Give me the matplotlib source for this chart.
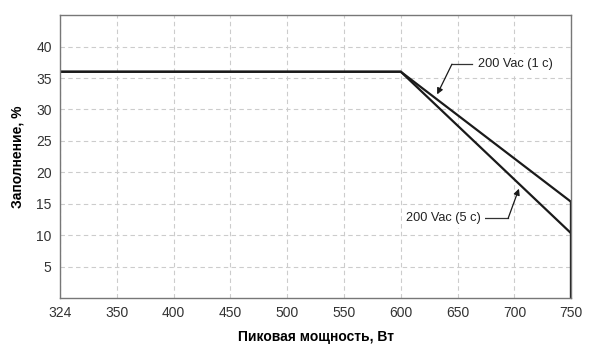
import numpy as np
import matplotlib.pyplot as plt

plt.rcParams['font.family'] = ['Liberation Sans', 'DejaVu Sans']

# axis ticks (equally spaced on the chart, not linear in value)
x_ticks = [324, 350, 400, 450, 500, 550, 600, 650, 700, 750]
y_ticks = [5, 10, 15, 20, 25, 30, 35, 40]

# curves: peak power (W) vs duty (%)
x_1s = [324, 600, 750, 750]
y_1s = [36, 36, 15.3, 0]
x_5s = [324, 600, 750, 750]
y_5s = [36, 36, 10.3, 0]


def xpos(v):
    return np.interp(v, x_ticks, np.arange(len(x_ticks)))


fig = plt.figure(figsize=(6, 3.52), dpi=100)
ax = fig.add_axes([0.1, 0.153, 0.852, 0.804])

ax.plot(xpos(x_5s), y_5s, color='#1a1a1a', lw=1.6, solid_joinstyle='miter')
ax.plot(xpos(x_1s), y_1s, color='#1a1a1a', lw=1.6, solid_joinstyle='miter')
ax.plot(xpos([750, 750]), [0, 15.3], color='#1a1a1a', lw=2.4)

ax.set_xlim(0, len(x_ticks) - 1)
ax.set_ylim(0, 45)
ax.set_xticks(np.arange(len(x_ticks)))
ax.set_xticklabels([str(v) for v in x_ticks])
ax.set_yticks(y_ticks)
ax.tick_params(length=0, labelsize=10, colors='#333333', pad=6)
ax.grid(True, color='#cccccc', ls=(0, (4, 3)), lw=0.8)
for s in ax.spines.values():
    s.set_color('#777777')
    s.set_linewidth(1.0)

ax.set_xlabel('Пиковая мощность, Вт', fontsize=10, fontweight='bold', labelpad=7)
ax.set_ylabel('Заполнение, %', fontsize=10, fontweight='bold', labelpad=8)

# callout for 1 s curve
ax.text(xpos(701), 37.2, '200 Vac (1 c)', ha='center', va='center', fontsize=9.2,
        color='#222222', bbox=dict(fc='white', ec='none', pad=3))
ax.plot(xpos([662.5, 645]), [37.2, 37.2], color='#333333', lw=0.9)
ax.annotate('', xy=(xpos(632), 32.4), xytext=(xpos(645), 37.2),
            arrowprops=dict(arrowstyle='-|>', color='#1a1a1a', lw=0.9,
                            mutation_scale=9, shrinkA=0, shrinkB=0))

# callout for 5 s curve
ax.text(xpos(637.5), 12.7, '200 Vac (5 c)', ha='center', va='center', fontsize=9.2,
        color='#222222', bbox=dict(fc='white', ec='none', pad=3))
ax.plot(xpos([674, 694.5]), [12.7, 12.7], color='#333333', lw=0.9)
ax.annotate('', xy=(xpos(704), 17.4), xytext=(xpos(694.5), 12.7),
            arrowprops=dict(arrowstyle='-|>', color='#1a1a1a', lw=0.9,
                            mutation_scale=9, shrinkA=0, shrinkB=0))

fig.savefig('out.png', dpi=100)
